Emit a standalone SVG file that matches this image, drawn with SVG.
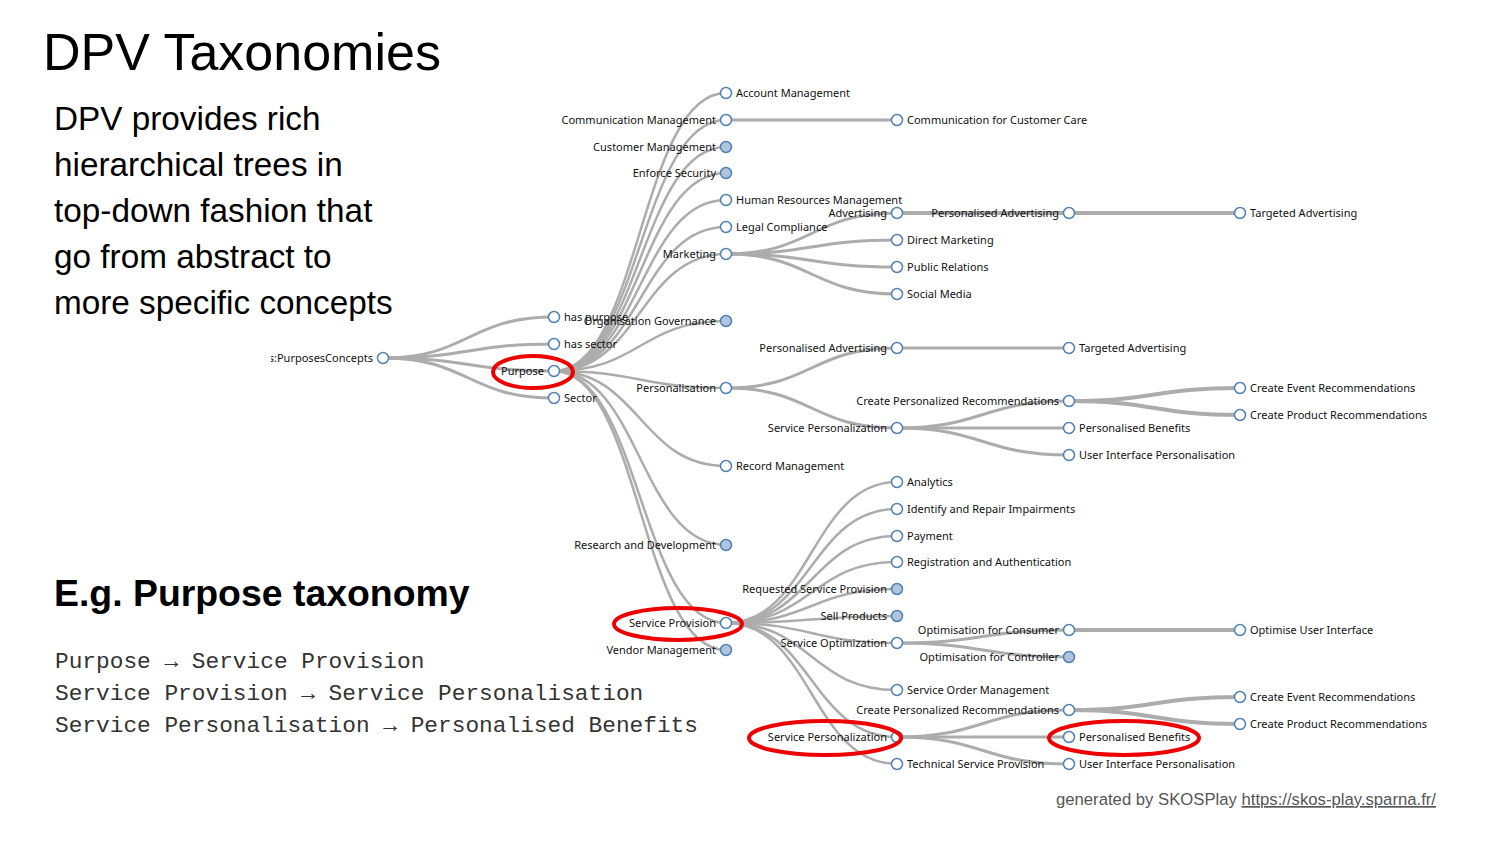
<svg xmlns="http://www.w3.org/2000/svg" width="1500" height="844" viewBox="0 0 1500 844">
  <defs>
    <clipPath id="rootClip"><rect x="271" y="340" width="120" height="30"/></clipPath>
  </defs>
  <style>
    .title { font-family: "Liberation Sans", Arial, sans-serif; font-size: 52px; fill: #000; }
    .body { font-family: "Liberation Sans", Arial, sans-serif; font-size: 33.3px; fill: #000; }
    .head { font-family: "Liberation Sans", Arial, sans-serif; font-size: 37.4px; font-weight: bold; fill: #000; }
    .mono { font-family: "Liberation Mono", "Courier New", monospace; font-size: 22.8px; fill: #333; }
    .foot { font-family: "Liberation Sans", Arial, sans-serif; font-size: 16.7px; fill: #555; }
    .link { fill: none; stroke: #acacac; stroke-width: 2.5; }
    .w3 { stroke-width: 3; }
    .w4 { stroke-width: 4; }
    .node circle { fill: #fff; stroke: #4f81b3; stroke-width: 1.5; }
    .node.closed circle { fill: #b0c4de; }
    .node text { font-family: "Noto Sans", "DejaVu Sans", sans-serif; font-size: 11px; fill: #111; }
    .l text { text-anchor: end; }
    .mark { fill: none; stroke: #ee0000; stroke-width: 4; }
  </style>

  <!-- slide text -->
  <text class="title" x="43" y="70">DPV Taxonomies</text>
  <g id="intro">
    <text class="body" x="54" y="130">DPV provides rich</text>
    <text class="body" x="54" y="176">hierarchical trees in</text>
    <text class="body" x="54" y="222">top-down fashion that</text>
    <text class="body" x="54" y="268">go from abstract to</text>
    <text class="body" x="54" y="314">more specific concepts</text>
  </g>
  <text class="head" x="54" y="606">E.g. Purpose taxonomy</text>
  <g id="example">
    <text class="mono" x="55" y="668">Purpose → Service Provision</text>
    <text class="mono" x="55" y="700">Service Provision → Service Personalisation</text>
    <text class="mono" x="55" y="732">Service Personalisation → Personalised Benefits</text>
  </g>

  <!-- tree links -->
  <g id="links">
    <!-- root -> level 1 -->
    <path class="link w3" d="M383,358 C468.5,358 468.5,317 554,317"/>
    <path class="link w3" d="M383,358 C468.5,358 468.5,344 554,344"/>
    <path class="link w3" d="M383,358 C468.5,358 468.5,371 554,371"/>
    <path class="link w3" d="M383,358 C468.5,358 468.5,398 554,398"/>
    <!-- Purpose -> level 2 -->
    <path class="link" d="M554,371 C640,371 640,93 726,93"/>
    <path class="link" d="M554,371 C640,371 640,120 726,120"/>
    <path class="link" d="M554,371 C640,371 640,147 726,147"/>
    <path class="link" d="M554,371 C640,371 640,173 726,173"/>
    <path class="link" d="M554,371 C640,371 640,200 726,200"/>
    <path class="link" d="M554,371 C640,371 640,227 726,227"/>
    <path class="link" d="M554,371 C640,371 640,254 726,254"/>
    <path class="link" d="M554,371 C640,371 640,321 726,321"/>
    <path class="link" d="M554,371 C640,371 640,388 726,388"/>
    <path class="link" d="M554,371 C640,371 640,466 726,466"/>
    <path class="link" d="M554,371 C640,371 640,545 726,545"/>
    <path class="link" d="M554,371 C640,371 640,623 726,623"/>
    <path class="link" d="M554,371 C640,371 640,650 726,650"/>
    <!-- level 2 -> level 3 -->
    <path class="link w3" d="M726,120 C811.5,120 811.5,120 897,120"/>
    <path class="link w3" d="M726,254 C811.5,254 811.5,213 897,213"/>
    <path class="link w3" d="M726,254 C811.5,254 811.5,240 897,240"/>
    <path class="link w3" d="M726,254 C811.5,254 811.5,267 897,267"/>
    <path class="link w3" d="M726,254 C811.5,254 811.5,294 897,294"/>
    <path class="link w3" d="M726,388 C811.5,388 811.5,348 897,348"/>
    <path class="link w3" d="M726,388 C811.5,388 811.5,428 897,428"/>
    <path class="link" d="M726,623 C811.5,623 811.5,482 897,482"/>
    <path class="link" d="M726,623 C811.5,623 811.5,509 897,509"/>
    <path class="link" d="M726,623 C811.5,623 811.5,536 897,536"/>
    <path class="link" d="M726,623 C811.5,623 811.5,562 897,562"/>
    <path class="link" d="M726,623 C811.5,623 811.5,589 897,589"/>
    <path class="link" d="M726,623 C811.5,623 811.5,616 897,616"/>
    <path class="link" d="M726,623 C811.5,623 811.5,643 897,643"/>
    <path class="link" d="M726,623 C811.5,623 811.5,690 897,690"/>
    <path class="link" d="M726,623 C811.5,623 811.5,737 897,737"/>
    <path class="link" d="M726,623 C811.5,623 811.5,764 897,764"/>
    <!-- level 3 -> level 4 -->
    <path class="link w4" d="M897,213 C983,213 983,213 1069,213"/>
    <path class="link w3" d="M897,348 C983,348 983,348 1069,348"/>
    <path class="link w3" d="M897,428 C983,428 983,401 1069,401"/>
    <path class="link w3" d="M897,428 C983,428 983,428 1069,428"/>
    <path class="link w3" d="M897,428 C983,428 983,455 1069,455"/>
    <path class="link w3" d="M897,643 C983,643 983,630 1069,630"/>
    <path class="link w3" d="M897,643 C983,643 983,657 1069,657"/>
    <path class="link w3" d="M897,737 C983,737 983,710 1069,710"/>
    <path class="link w3" d="M897,737 C983,737 983,737 1069,737"/>
    <path class="link w3" d="M897,737 C983,737 983,764 1069,764"/>
    <!-- level 4 -> level 5 -->
    <path class="link w4" d="M1069,213 C1154.5,213 1154.5,213 1240,213"/>
    <path class="link w4" d="M1069,401 C1154.5,401 1154.5,388 1240,388"/>
    <path class="link w4" d="M1069,401 C1154.5,401 1154.5,415 1240,415"/>
    <path class="link w4" d="M1069,630 C1154.5,630 1154.5,630 1240,630"/>
    <path class="link w4" d="M1069,710 C1154.5,710 1154.5,697 1240,697"/>
    <path class="link w4" d="M1069,710 C1154.5,710 1154.5,724 1240,724"/>
  </g>

  <!-- tree nodes -->
  <g id="n-root" class="node l"><circle cx="383" cy="358" r="5.5"/><text x="373" y="362" clip-path="url(#rootClip)">dpvs:PurposesConcepts</text></g>

  <g id="n-has-purpose" class="node"><circle cx="554" cy="317" r="5.5"/><text x="564" y="321">has purpose</text></g>
  <g id="n-has-sector" class="node"><circle cx="554" cy="344" r="5.5"/><text x="564" y="348">has sector</text></g>
  <g id="n-purpose" class="node l"><circle cx="554" cy="371" r="5.5"/><text x="544" y="375">Purpose</text></g>
  <g id="n-sector" class="node"><circle cx="554" cy="398" r="5.5"/><text x="564" y="402">Sector</text></g>

  <g id="n-account" class="node"><circle cx="726" cy="93" r="5.5"/><text x="736" y="97">Account Management</text></g>
  <g id="n-comm" class="node l"><circle cx="726" cy="120" r="5.5"/><text x="716" y="124">Communication Management</text></g>
  <g id="n-customer" class="node l closed"><circle cx="726" cy="147" r="5.5"/><text x="716" y="151">Customer Management</text></g>
  <g id="n-security" class="node l closed"><circle cx="726" cy="173" r="5.5"/><text x="716" y="177">Enforce Security</text></g>
  <g id="n-hr" class="node"><circle cx="726" cy="200" r="5.5"/><text x="736" y="204">Human Resources Management</text></g>
  <g id="n-legal" class="node"><circle cx="726" cy="227" r="5.5"/><text x="736" y="231">Legal Compliance</text></g>
  <g id="n-marketing" class="node l"><circle cx="726" cy="254" r="5.5"/><text x="716" y="258">Marketing</text></g>
  <g id="n-governance" class="node l closed"><circle cx="726" cy="321" r="5.5"/><text x="716" y="325">Organisation Governance</text></g>
  <g id="n-personalisation" class="node l"><circle cx="726" cy="388" r="5.5"/><text x="716" y="392">Personalisation</text></g>
  <g id="n-record" class="node"><circle cx="726" cy="466" r="5.5"/><text x="736" y="470">Record Management</text></g>
  <g id="n-research" class="node l closed"><circle cx="726" cy="545" r="5.5"/><text x="716" y="549">Research and Development</text></g>
  <g id="n-service-provision" class="node l"><circle cx="726" cy="623" r="5.5"/><text x="716" y="627">Service Provision</text></g>
  <g id="n-vendor" class="node l closed"><circle cx="726" cy="650" r="5.5"/><text x="716" y="654">Vendor Management</text></g>

  <g id="n-comm-care" class="node"><circle cx="897" cy="120" r="5.5"/><text x="907" y="124">Communication for Customer Care</text></g>
  <g id="n-advertising" class="node l"><circle cx="897" cy="213" r="5.5"/><text x="887" y="217">Advertising</text></g>
  <g id="n-direct" class="node"><circle cx="897" cy="240" r="5.5"/><text x="907" y="244">Direct Marketing</text></g>
  <g id="n-pr" class="node"><circle cx="897" cy="267" r="5.5"/><text x="907" y="271">Public Relations</text></g>
  <g id="n-social" class="node"><circle cx="897" cy="294" r="5.5"/><text x="907" y="298">Social Media</text></g>
  <g id="n-pers-adv-a" class="node l"><circle cx="897" cy="348" r="5.5"/><text x="887" y="352">Personalised Advertising</text></g>
  <g id="n-serv-pers-a" class="node l"><circle cx="897" cy="428" r="5.5"/><text x="887" y="432">Service Personalization</text></g>
  <g id="n-analytics" class="node"><circle cx="897" cy="482" r="5.5"/><text x="907" y="486">Analytics</text></g>
  <g id="n-repair" class="node"><circle cx="897" cy="509" r="5.5"/><text x="907" y="513">Identify and Repair Impairments</text></g>
  <g id="n-payment" class="node"><circle cx="897" cy="536" r="5.5"/><text x="907" y="540">Payment</text></g>
  <g id="n-registration" class="node"><circle cx="897" cy="562" r="5.5"/><text x="907" y="566">Registration and Authentication</text></g>
  <g id="n-requested" class="node l closed"><circle cx="897" cy="589" r="5.5"/><text x="887" y="593">Requested Service Provision</text></g>
  <g id="n-sell" class="node l closed"><circle cx="897" cy="616" r="5.5"/><text x="887" y="620">Sell Products</text></g>
  <g id="n-optimization" class="node l"><circle cx="897" cy="643" r="5.5"/><text x="887" y="647">Service Optimization</text></g>
  <g id="n-order" class="node"><circle cx="897" cy="690" r="5.5"/><text x="907" y="694">Service Order Management</text></g>
  <g id="n-serv-pers-b" class="node l"><circle cx="897" cy="737" r="5.5"/><text x="887" y="741">Service Personalization</text></g>
  <g id="n-technical" class="node"><circle cx="897" cy="764" r="5.5"/><text x="907" y="768">Technical Service Provision</text></g>

  <g id="n-pers-adv-b" class="node l"><circle cx="1069" cy="213" r="5.5"/><text x="1059" y="217">Personalised Advertising</text></g>
  <g id="n-targeted-a" class="node"><circle cx="1069" cy="348" r="5.5"/><text x="1079" y="352">Targeted Advertising</text></g>
  <g id="n-create-recs-a" class="node l"><circle cx="1069" cy="401" r="5.5"/><text x="1059" y="405">Create Personalized Recommendations</text></g>
  <g id="n-benefits-a" class="node"><circle cx="1069" cy="428" r="5.5"/><text x="1079" y="432">Personalised Benefits</text></g>
  <g id="n-ui-pers-a" class="node"><circle cx="1069" cy="455" r="5.5"/><text x="1079" y="459">User Interface Personalisation</text></g>
  <g id="n-opt-consumer" class="node l"><circle cx="1069" cy="630" r="5.5"/><text x="1059" y="634">Optimisation for Consumer</text></g>
  <g id="n-opt-controller" class="node l closed"><circle cx="1069" cy="657" r="5.5"/><text x="1059" y="661">Optimisation for Controller</text></g>
  <g id="n-create-recs-b" class="node l"><circle cx="1069" cy="710" r="5.5"/><text x="1059" y="714">Create Personalized Recommendations</text></g>
  <g id="n-benefits-b" class="node"><circle cx="1069" cy="737" r="5.5"/><text x="1079" y="741">Personalised Benefits</text></g>
  <g id="n-ui-pers-b" class="node"><circle cx="1069" cy="764" r="5.5"/><text x="1079" y="768">User Interface Personalisation</text></g>

  <g id="n-targeted-b" class="node"><circle cx="1240" cy="213" r="5.5"/><text x="1250" y="217">Targeted Advertising</text></g>
  <g id="n-event-a" class="node"><circle cx="1240" cy="388" r="5.5"/><text x="1250" y="392">Create Event Recommendations</text></g>
  <g id="n-product-a" class="node"><circle cx="1240" cy="415" r="5.5"/><text x="1250" y="419">Create Product Recommendations</text></g>
  <g id="n-optimise-ui" class="node"><circle cx="1240" cy="630" r="5.5"/><text x="1250" y="634">Optimise User Interface</text></g>
  <g id="n-event-b" class="node"><circle cx="1240" cy="697" r="5.5"/><text x="1250" y="701">Create Event Recommendations</text></g>
  <g id="n-product-b" class="node"><circle cx="1240" cy="724" r="5.5"/><text x="1250" y="728">Create Product Recommendations</text></g>

  <!-- highlight rings -->
  <g id="highlights">
    <ellipse class="mark" cx="533" cy="372" rx="40" ry="16"/>
    <ellipse class="mark" cx="678" cy="624" rx="64" ry="16"/>
    <ellipse class="mark" cx="825" cy="738" rx="76" ry="17"/>
    <ellipse class="mark" cx="1124" cy="738" rx="75" ry="17"/>
  </g>

  <!-- credit line -->
  <text class="foot" x="1056" y="805">generated by SKOSPlay <tspan text-decoration="underline">https://skos-play.sparna.fr/</tspan></text>
</svg>
